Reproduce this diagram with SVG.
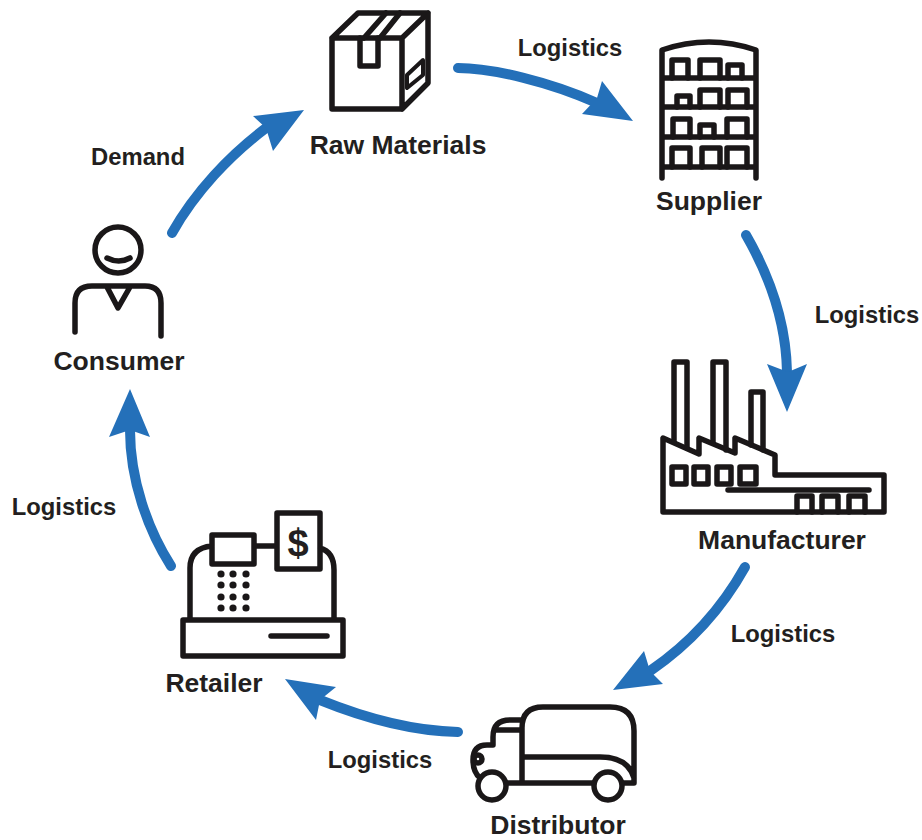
<svg xmlns="http://www.w3.org/2000/svg" width="922" height="840" viewBox="0 0 922 840">
<style>
text{font-family:"Liberation Sans",Arial,sans-serif;font-weight:700;fill:#231f20;text-anchor:middle}
.n{font-size:26.5px}
.l{font-size:23.8px}
.i{fill:none;stroke:#1a1718;stroke-width:5.5;stroke-linecap:round;stroke-linejoin:round}
.t{stroke-width:4}
.a{fill:none;stroke:#2470b9;stroke-width:10;stroke-linecap:round}
.h{fill:#2470b9}
.d{fill:#1a1718}
</style>
<g id="connectors">
<path class="a" d="M458 68C492 68 550 82 597 103"/>
<polygon class="h" points="633,121 602,81 597,98 582,114"/>
<path class="a" d="M746 235C765 268 786 316 787 372"/>
<polygon class="h" points="787,412 767,364 788,372 807,364"/>
<path class="a" d="M745 567C721 610 688 645 650 671"/>
<polygon class="h" points="613,690 644,651 650,671 663,684"/>
<path class="a" d="M458 732C410 731 362 717 320 700"/>
<polygon class="h" points="285,679 336,687 320,700 316,720"/>
<path class="a" d="M171 566C148 530 130 480 130 430"/>
<polygon class="h" points="130,389 109,437 130,430 150,437"/>
<path class="a" d="M172 233C195 192 230 155 266 128"/>
<polygon class="h" points="304,110 253,116 266,128 273,151"/>
</g>
<g id="raw-materials">
<path class="i" d="M332 38H402V109H332ZM332 38L358 13H428V83L402 109M402 38L428 13"/>
<path class="i" d="M364 38L386 13M380 38L400 13M360 38V66H378V38"/>
<path class="i t" d="M407 75L423 60V75L407 88Z"/>
<text class="n" x="398" y="154">Raw Materials</text>
</g>
<g id="supplier">
<path class="i" d="M662 178V50Q709 34 756 50V178M662 78H756M662 107H756M662 137H756M662 167H756"/>
<path class="i" d="M672 78V60H688V78M700 78V60H720V78M728 78V65H742V78M677 107V96H690V107M700 107V90H720V107M728 107V90H747V107M673 137V119H690V137M700 137V125H714V137M727 137V119H747V137M672 167V148H690V167M702 167V148H720V167M727 167V148H747V167"/>
<text class="n" x="709" y="210">Supplier</text>
</g>
<g id="manufacturer">
<path class="i" d="M663 438V512H884V475H775V455L735 438V453L699 438V454L663 438Z"/>
<path class="i" d="M674 442V362H687V448M713 443V362H726V450M751 445V392H763V450"/>
<path class="i" d="M672 467H686V484H672ZM694 467H708V484H694ZM717 467H731V484H717ZM740 467H756V484H740ZM728 490H869M797 512V496H812V512M822 512V496H838V512M849 512V496H865V512"/>
<text class="n" x="782" y="549">Manufacturer</text>
</g>
<g id="distributor">
<path class="i" d="M522 782V728Q522 707 543 707H610Q634 707 634 731V783H622M594 783H506M522 757H600Q628 757 634 778M522 720H510Q493 720 493 737V745M495 730H522M493 745H487Q473 745 473 760Q473 772 480 778"/>
<circle class="i" cx="478" cy="759" r="4"/>
<circle class="i" cx="492" cy="786" r="14"/>
<circle class="i" cx="608" cy="786" r="14"/>
<text class="n" x="558" y="833.5">Distributor</text>
</g>
<g id="retailer">
<path class="i" d="M183 620H343V656H183ZM271 636H327M190 620V568Q190 548 212 546M334 620V570Q334 552 320 548M212 535H254V564H212ZM254 546H277M277 513H320V569H277Z"/>
<text x="298" y="556" style="font-size:38px">$</text>
<g class="d">
<circle cx="221" cy="574" r="3.6"/><circle cx="233" cy="574" r="3.6"/><circle cx="246" cy="574" r="3.6"/>
<circle cx="221" cy="585" r="3.6"/><circle cx="233" cy="585" r="3.6"/><circle cx="246" cy="585" r="3.6"/>
<circle cx="221" cy="597" r="3.6"/><circle cx="233" cy="597" r="3.6"/><circle cx="246" cy="597" r="3.6"/>
<circle cx="221" cy="608" r="3.6"/><circle cx="233" cy="608" r="3.6"/><circle cx="246" cy="608" r="3.6"/>
</g>
<text class="n" x="214" y="692">Retailer</text>
</g>
<g id="consumer">
<circle class="i" cx="118" cy="250" r="23"/>
<path class="i" d="M107 258Q119 264 130 258M75 332V303Q75 286 92 286H145Q161 286 161 303V336M107 287L118 308L130 287"/>
<text class="n" x="119" y="370">Consumer</text>
</g>
<g id="labels">
<text class="l" x="570" y="56">Logistics</text>
<text class="l" x="867" y="323">Logistics</text>
<text class="l" x="783" y="642">Logistics</text>
<text class="l" x="380" y="768">Logistics</text>
<text class="l" x="64" y="515">Logistics</text>
<text class="l" x="138" y="165">Demand</text>
</g>
</svg>
